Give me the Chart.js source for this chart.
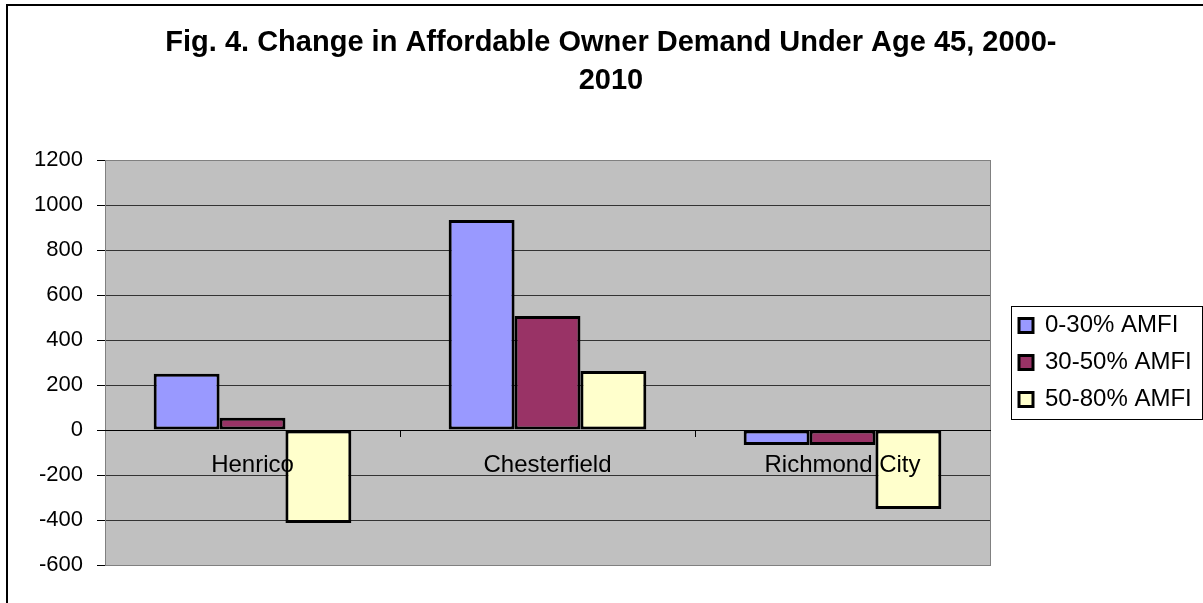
<!DOCTYPE html>
<html lang="en">
<head>
    <meta charset="UTF-8">
    <title>Fig. 4 Affordable Owner Demand</title>
    <script src="https://cdn.jsdelivr.net/npm/chart.js"></script>
    <style>
        body { margin: 0; background: #ffffff; }
        .wrap { width: 1203px; height: 603px; }
    </style>
</head>
<body>
    <div class="wrap"><canvas id="chart" width="1203" height="603"></canvas></div>

    <script>
        const categories = ['Henrico', 'Chesterfield', 'Richmond City'];
        const seriesNames = ['0-30% AMFI', '30-50% AMFI', '50-80% AMFI'];
        const amfi0to30 = [250, 933, -67];
        const amfi30to50 = [55, 507, -67];
        const amfi50to80 = [-413, 262, -351];
        const seriesColors = ['#9999FF', '#993366', '#FFFFCC'];
        const titleLines = ['Fig. 4. Change in Affordable Owner Demand Under Age 45, 2000-', '2010'];

        const FONT = 'Arial, "Liberation Sans", sans-serif';

        // target plot area
        const target = { left: 105, top: 160, right: 990, bottom: 565 };

        const frame = {
            id: 'frame',
            beforeDraw(chart) {
                const { ctx, chartArea: a } = chart;
                ctx.save();
                ctx.fillStyle = '#ffffff';
                ctx.fillRect(0, 0, chart.width, chart.height);
                ctx.fillStyle = '#C0C0C0';
                ctx.fillRect(a.left, a.top, a.right - a.left, a.bottom - a.top);
                ctx.restore();
            },
            beforeDatasetsDraw(chart) {
                const { ctx, chartArea: a } = chart;
                ctx.save();
                ctx.strokeStyle = '#808080';
                ctx.lineWidth = 1;
                ctx.strokeRect(a.left + 0.5, a.top + 0.5, a.right - a.left, a.bottom - a.top);
                ctx.restore();
            },
            afterDraw(chart) {
                const ctx = chart.ctx;
                const boxes = chart.legend.legendHitBoxes;
                ctx.save();
                if (boxes && boxes.length) {
                    const l = Math.min(...boxes.map(b => b.left)) - 8;
                    const t = Math.min(...boxes.map(b => b.top)) - 8;
                    const r = Math.max(...boxes.map(b => b.left + b.width)) + 10;
                    const btm = Math.max(...boxes.map(b => b.top + b.height)) + 7;
                    ctx.strokeStyle = '#000';
                    ctx.lineWidth = 1;
                    ctx.strokeRect(Math.round(l) + 0.5, Math.round(t) + 0.5, Math.round(r - l), Math.round(btm - t));
                }
                // outer chart border
                ctx.strokeStyle = '#000';
                ctx.lineWidth = 2;
                ctx.strokeRect(7, 5, 1400, 800);
                ctx.restore();
            }
        };

        function makeDataset(label, values, color) {
            return {
                label: label,
                data: values,
                backgroundColor: color,
                borderColor: '#000',
                borderWidth: 3,
                borderSkipped: false,
                categoryPercentage: 0.67,
                barPercentage: 1.0
            };
        }

        const padding = { left: 0, top: 0, right: 0, bottom: 38 };

        const chart = new Chart(document.getElementById('chart').getContext('2d'), {
            type: 'bar',
            data: {
                labels: categories,
                datasets: [
                    makeDataset(seriesNames[0], amfi0to30, seriesColors[0]),
                    makeDataset(seriesNames[1], amfi30to50, seriesColors[1]),
                    makeDataset(seriesNames[2], amfi50to80, seriesColors[2])
                ]
            },
            options: {
                responsive: false,
                animation: false,
                layout: { padding: padding },
                plugins: {
                    title: {
                        display: true,
                        text: titleLines,
                        color: '#000',
                        font: { family: FONT, size: 29, weight: 'bold', lineHeight: 1.3 },
                        padding: { top: 24, bottom: 50 }
                    },
                    legend: {
                        position: 'right',
                        fullSize: false,
                        labels: {
                            color: '#000',
                            boxWidth: 14,
                            boxHeight: 14,
                            padding: 13,
                            font: { family: FONT, size: 24 }
                        }
                    },
                    tooltip: { enabled: false }
                },
                scales: {
                    x: {
                        position: { y: 0 },
                        grid: {
                            offset: true,
                            drawOnChartArea: false,
                            tickLength: 6,
                            tickColor: '#000'
                        },
                        border: { color: '#000', width: 1, z: 1 },
                        ticks: {
                            z: 1,
                            color: '#000',
                            padding: 15,
                            font: { family: FONT, size: 24 }
                        }
                    },
                    y: {
                        min: -600,
                        max: 1200,
                        grid: {
                            color: '#333',
                            tickColor: '#000',
                            tickLength: 8
                        },
                        border: { color: '#808080' },
                        ticks: {
                            stepSize: 200,
                            color: '#000',
                            padding: 14,
                            font: { family: FONT, size: 22 },
                            callback: (v) => String(v)
                        }
                    },
                    // empty spacer between plot and legend
                    gap: {
                        type: 'linear',
                        position: 'right',
                        grid: { display: false },
                        border: { display: false },
                        ticks: { display: false },
                        afterFit(scale) { scale.width = 16; }
                    }
                }
            },
            plugins: [frame]
        });

        // nudge the layout padding so the plot area lands where the picture has it
        for (let i = 0; i < 4; i++) {
            const a = chart.chartArea;
            padding.left += target.left - a.left;
            padding.right += a.right - target.right;
            chart.options.plugins.title.padding.bottom += target.top - a.top;
            padding.bottom += a.bottom - target.bottom;
            chart.update();
        }
    </script>
</body>
</html>
